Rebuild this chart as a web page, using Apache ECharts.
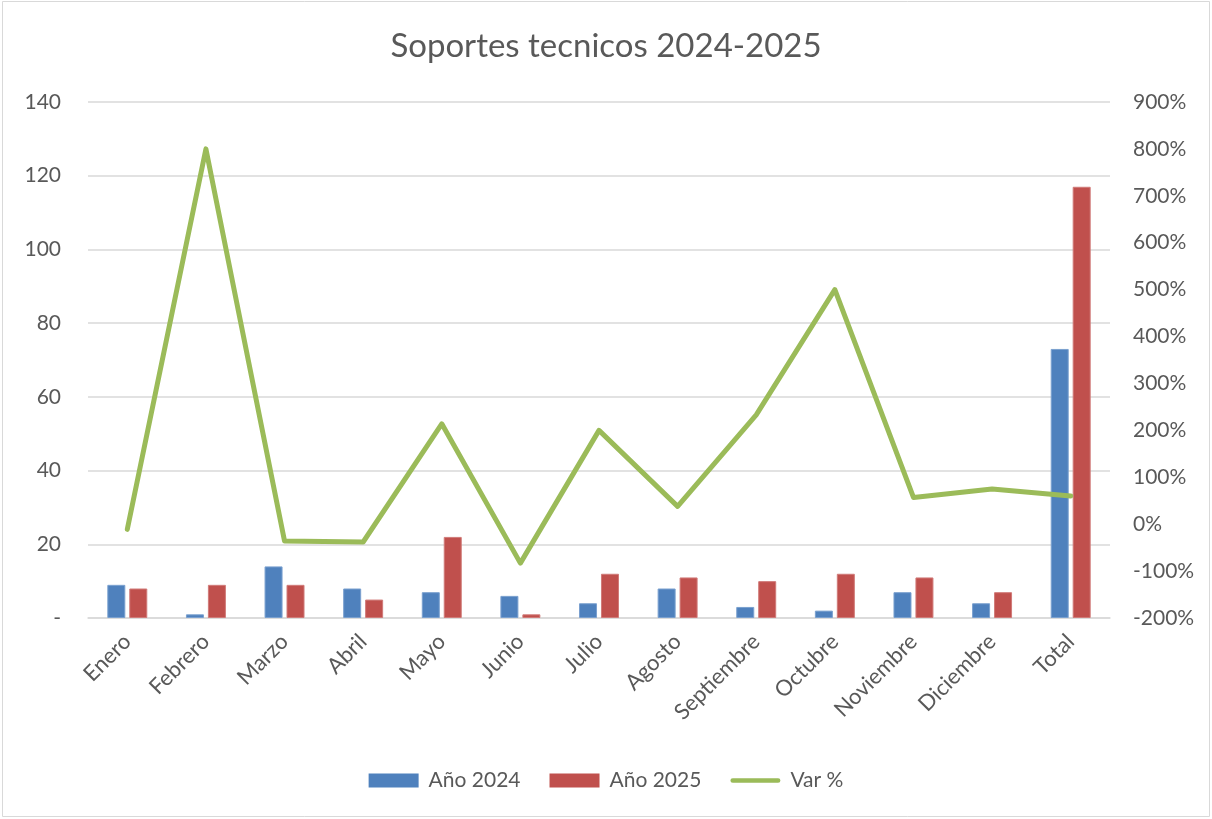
<!DOCTYPE html>
<html>
<head>
<meta charset="utf-8">
<script src="https://cdn.jsdelivr.net/npm/echarts@6/dist/echarts.min.js"></script>
<style>
html,body{margin:0;padding:0;background:#fff;}
#chart{width:1212px;height:819px;}
</style>
</head>
<body>
<div id="chart"></div>
<script>
var categories = ['Enero','Febrero','Marzo','Abril','Mayo','Junio','Julio','Agosto','Septiembre','Octubre','Noviembre','Diciembre','Total'];
var ano2024 = [9,1,14,8,7,6,4,8,3,2,7,4,73];
var ano2025 = [8,9,9,5,22,1,12,11,10,12,11,7,117];
var varPct = [-11,800,-36,-38,214,-83,200,38,233,500,57,75,60];
var leftTicks = [0,20,40,60,80,100,120,140];
var rightTicks = [-200,-100,0,100,200,300,400,500,600,700,800,900];

var FONT = 'Lato, "Open Sans", sans-serif';
var TXT = '#595959';
var chart = echarts.init(document.getElementById('chart'), null, {renderer:'canvas'});
chart.setOption({
  animation:false,
  backgroundColor:'#fff',
  textStyle:{fontFamily:FONT},
  graphic:[{type:'rect',shape:{x:2.5,y:1.5,width:1207,height:815},style:{fill:'none',stroke:'#d9d9d9',lineWidth:1}}],
  title:{text:'Soportes tecnicos 2024-2025',left:'center',top:25,textStyle:{fontFamily:FONT,fontSize:33,fontWeight:'normal',color:TXT}},
  legend:{bottom:23,left:'center',itemGap:29,itemWidth:50,itemHeight:14,
    textStyle:{fontFamily:FONT,fontSize:21,color:TXT,padding:[0,0,0,5]},
    itemStyle:{borderWidth:0},
    data:[{name:'Año 2024',icon:'rect'},{name:'Año 2025',icon:'rect'},
          {name:'Var %',icon:'path://M2.5,0 L51.5,0 A2.5,2.5 0 0 1 51.5,5 L2.5,5 A2.5,2.5 0 0 1 2.5,0 Z'}]},
  grid:{left:88,right:102,top:102,bottom:201,containLabel:false},
  xAxis:{type:'category',data:categories,
    axisLine:{lineStyle:{color:'#d9d9d9',width:1.5}},axisTick:{show:false},
    axisLabel:{rotate:45,interval:0,color:TXT,fontSize:22,fontFamily:FONT,margin:20}},
  yAxis:[
    {type:'value',min:leftTicks[0],max:leftTicks[leftTicks.length-1],interval:20,
     axisLine:{show:false},axisTick:{show:false},
     splitLine:{lineStyle:{color:'#d9d9d9',width:1.5}},
     axisLabel:{color:TXT,fontSize:21,fontFamily:FONT,margin:27,formatter:function(v){return v===0?'-':String(v);}}},
    {type:'value',min:rightTicks[0],max:rightTicks[rightTicks.length-1],interval:100,alignTicks:false,
     axisLine:{show:false},axisTick:{show:false},splitLine:{show:false},
     axisLabel:{color:TXT,fontSize:21,fontFamily:FONT,margin:23,formatter:function(v){return v+'%';}}}
  ],
  series:[
    {name:'Año 2024',type:'bar',data:ano2024,barWidth:18,barGap:'22%',
     itemStyle:{color:'#4f81bd',borderColor:'#7aa0cf',borderWidth:1}},
    {name:'Año 2025',type:'bar',data:ano2025,barWidth:18,
     itemStyle:{color:'#c0504d',borderColor:'#d07a78',borderWidth:1}},
    {name:'Var %',type:'line',yAxisIndex:1,data:varPct,symbol:'none',
     lineStyle:{color:'#9bbb59',width:5,cap:'round',join:'round'},itemStyle:{color:'#9bbb59'}}
  ]
});
</script>
</body>
</html>
